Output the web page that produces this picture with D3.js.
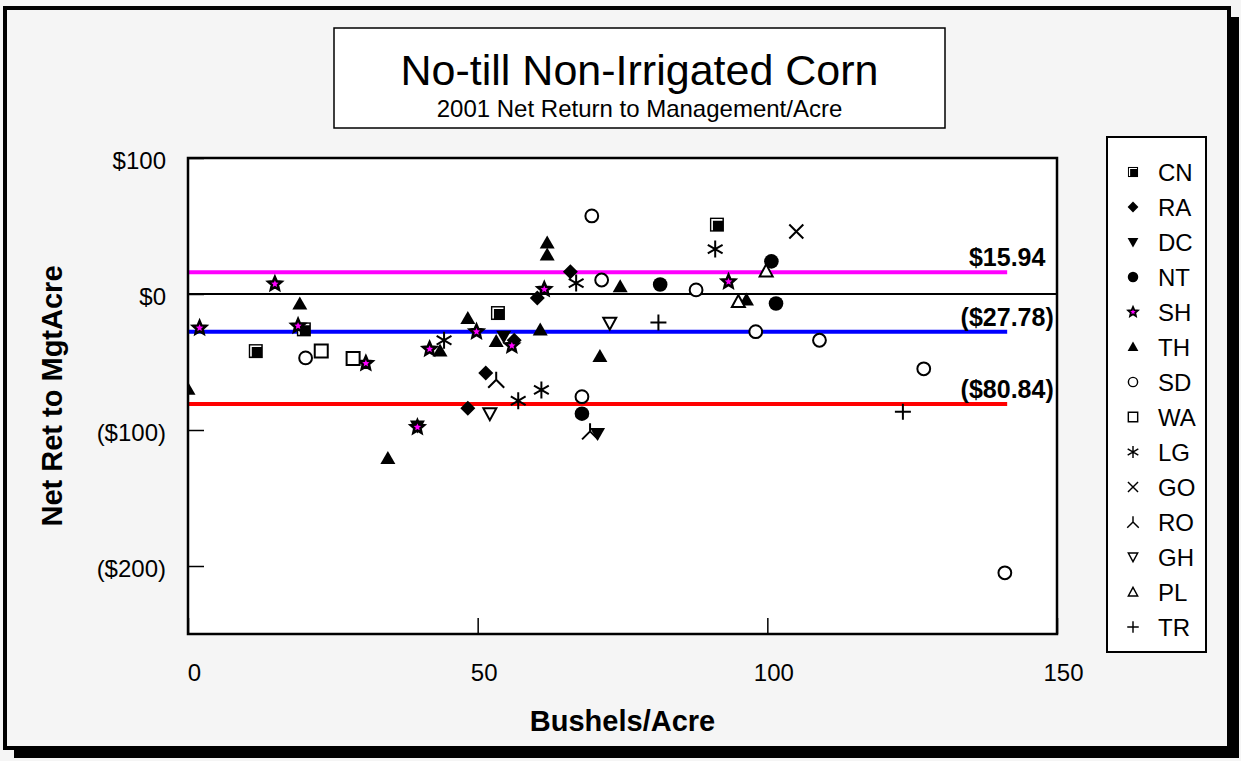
<!DOCTYPE html>
<html lang="en">
<head>
<meta charset="utf-8">
<title>No-till Non-Irrigated Corn</title>
<style type="text/css">
	body { margin: 0; background: #f5f5f5; }
	text { font-family: "Liberation Sans", Arial, sans-serif; }
</style>
<script type="text/javascript" src="https://cdn.jsdelivr.net/npm/d3@7"></script>
</head>
<body>
<script>
// series names (legend order) and their points [bushels, net return]
var seriesNames = ["CN", "RA", "DC", "NT", "SH", "TH", "SD", "WA", "LG", "GO", "RO", "GH", "PL", "TR"];

var CN = [[11.7, -42], [20, -26], [53.5, -14], [91.3, 51]];
var RA = [[48.3, -84], [51.4, -58], [56.3, -34], [60.3, -3], [66, 16.4]];
var DC = [[39.6, -97], [54.5, -31], [70.7, -102.5]];
var NT = [[68, -88], [81.5, 7], [100.7, 24], [101.5, -7]];
var SH = [[2, -25], [15, 7.4], [19, -23.5], [30.7, -51], [39.6, -98], [41.7, -40.5], [49.8, -27.7], [55.9, -38], [61.5, 3.4], [93.3, 9]];
var TH = [[0, -70], [19.3, -7.4], [34.5, -121], [43.5, -42], [48.3, -18], [53.2, -35], [60.8, -26.5], [62, 37.5], [62, 28.7], [71.1, -46], [74.6, 5.4], [96.4, -4.4]];
var SD = [[20.3, -47], [68, -75.5], [69.7, 57.4], [71.4, 10.3], [87.7, 3], [98, -27.7], [109, -34], [127, -55], [141, -205]];
var WA = [[23, -42], [28.5, -47.5]];
var LG = [[44.2, -34], [57, -78.5], [61, -70.5], [67, 8], [91, 33]];
var GO = [[105, 46]];
var RO = [[53.2, -63], [69.4, -101]];
var GH = [[52.1, -88], [72.8, -21.5]];
var PL = [[95, -5.5], [99.8, 17]];
var TR = [[81.2, -21], [123.4, -86.5]];

var seriesData = [CN, RA, DC, NT, SH, TH, SD, WA, LG, GO, RO, GH, PL, TR];

// average lines
var refValues = [15.94, -27.78, -80.84];
var refLabels = ["$15.94", "($27.78)", "($80.84)"];
var refRange = [0, 141.4];

var xTicks = [0, 50, 100, 150];
var yTicks = [100, 0, -100, -200];
var yTickLabels = ["$100", "$0", "($100)", "($200)"];

var titleText = "No-till Non-Irrigated Corn";
var subtitleText = "2001 Net Return to Management/Acre";

// ---- look of each series marker
var markerStyle = {
	CN: "sqfill", RA: "diamond", DC: "tridown", NT: "circle", SH: "star", TH: "triup",
	SD: "circleopen", WA: "squareopen", LG: "asterisk", GO: "x", RO: "ro",
	GH: "tridownopen", PL: "triupopen", TR: "plus"
};
var refColors = ["#ff00ff", "#0000ff", "#ff0000"];

function circlePath(r) {
	return "M" + r + ",0A" + r + "," + r + " 0 1 1 " + (-r) + ",0A" + r + "," + r + " 0 1 1 " + r + ",0Z";
}
function starPath(R, r) {
	var p = [];
	for (var i = 0; i < 10; i++) {
		var a = -Math.PI / 2 + i * Math.PI / 5;
		var rr = i % 2 ? r : R;
		p.push((rr * Math.cos(a)).toFixed(2) + "," + (rr * Math.sin(a)).toFixed(2));
	}
	return "M" + p.join("L") + "Z";
}

// draws one marker into group g
function drawMarker(g, type) {
	var blk = "#000";
	if (type == "sqfill") {
		g.append("path").attr("d", "M-7,-7h14v14h-14Z").attr("fill", blk);
		g.append("path").attr("d", "M-4.8,5.5V-4.8H5.5").attr("fill", "none").attr("stroke", "#fff").attr("stroke-width", 1.6);
	} else if (type == "diamond") {
		g.append("path").attr("d", "M0,-7.5L7.5,0L0,7.5L-7.5,0Z").attr("fill", blk);
	} else if (type == "tridown") {
		g.append("path").attr("d", "M-7.5,-5.5L7.5,-5.5L0,7.5Z").attr("fill", blk);
	} else if (type == "triup") {
		g.append("path").attr("d", "M0,-7.5L7.5,5.5L-7.5,5.5Z").attr("fill", blk);
	} else if (type == "circle") {
		g.append("path").attr("d", circlePath(7.3)).attr("fill", blk);
	} else if (type == "star") {
		g.append("path").attr("d", starPath(7, 3.2)).attr("fill", "#ff00ff")
			.attr("stroke", blk).attr("stroke-width", 2.5).attr("stroke-linejoin", "miter");
	} else if (type == "circleopen") {
		g.append("path").attr("d", circlePath(6.4)).attr("fill", "#fff").attr("stroke", blk).attr("stroke-width", 2);
	} else if (type == "squareopen") {
		g.append("path").attr("d", "M-6.5,-6.5h13v13h-13Z").attr("fill", "#fff").attr("stroke", blk).attr("stroke-width", 2);
	} else if (type == "tridownopen") {
		g.append("path").attr("d", "M-6.5,-5.5L6.5,-5.5L0,6.5Z").attr("fill", "#fff").attr("stroke", blk).attr("stroke-width", 2);
	} else if (type == "triupopen") {
		g.append("path").attr("d", "M0,-6.5L6.5,5.5L-6.5,5.5Z").attr("fill", "#fff").attr("stroke", blk).attr("stroke-width", 2);
	} else {
		var d = "";
		if (type == "asterisk") d = "M0,-8.5V8.5M-7.4,-4.3L7.4,4.3M-7.4,4.3L7.4,-4.3";
		if (type == "x") d = "M-7,-7L7,7M-7,7L7,-7";
		if (type == "ro") d = "M0,0V-8M0,0L-8,8M0,0L8,8";
		if (type == "plus") d = "M-8,0H8M0,-8V8";
		g.append("path").attr("d", d).attr("fill", "none").attr("stroke", blk).attr("stroke-width", 2);
	}
}

var W = 1241, H = 761;
var svg = d3.select("body").append("svg").attr("width", W).attr("height", H);

// outer frame with shadow
svg.append("rect").attr("x", 14).attr("y", 17).attr("width", 1225).attr("height", 741).attr("fill", "#000");
svg.append("rect").attr("x", 5).attr("y", 8).attr("width", 1224).attr("height", 740)
	.attr("fill", "#f5f5f5").attr("stroke", "#000").attr("stroke-width", 4);

// title box
svg.append("rect").attr("x", 334).attr("y", 28).attr("width", 611).attr("height", 100)
	.attr("fill", "#fff").attr("stroke", "#000").attr("stroke-width", 1.5);
svg.append("text").attr("x", 639.5).attr("y", 85).attr("text-anchor", "middle")
	.attr("font-size", "43px").text(titleText);
svg.append("text").attr("x", 639.5).attr("y", 117).attr("text-anchor", "middle")
	.attr("font-size", "24px").text(subtitleText);

var plot = {left: 188, right: 1057, top: 158, bottom: 634};
var x = d3.scaleLinear().domain([0, 150]).range([plot.left, plot.right]);
var y = d3.scaleLinear().domain([-250, 100]).range([plot.bottom, plot.top]);

svg.append("rect").attr("x", plot.left).attr("y", plot.top)
	.attr("width", plot.right - plot.left).attr("height", plot.bottom - plot.top).attr("fill", "#fff");

svg.append("clipPath").attr("id", "clip").append("rect")
	.attr("x", plot.left).attr("y", plot.top)
	.attr("width", plot.right - plot.left).attr("height", plot.bottom - plot.top);

// axes, ticks pointing inward
var xAxis = svg.append("g").attr("transform", "translate(0," + plot.bottom + ")")
	.call(d3.axisBottom(x).tickValues(xTicks).tickSizeInner(-16).tickSizeOuter(0).tickPadding(30));
var yAxis = svg.append("g").attr("transform", "translate(" + plot.left + ",0)")
	.call(d3.axisLeft(y).tickValues(yTicks).tickSizeInner(-16).tickSizeOuter(0).tickPadding(22)
		.tickFormat(function(d, i) { return yTickLabels[i]; }));
[xAxis, yAxis].forEach(function(a) {
	a.select(".domain").remove();
	a.selectAll("line").attr("stroke", "#000").attr("stroke-width", 1.5);
	a.selectAll("text").attr("fill", "#000").attr("font-size", "24px")
		.attr("font-family", '"Liberation Sans", Arial, sans-serif');
});
xAxis.selectAll("text").attr("dx", 6);
yAxis.selectAll("text").attr("dy", "0.42em");

// zero line
svg.append("line").attr("x1", plot.left).attr("x2", plot.right)
	.attr("y1", y(0)).attr("y2", y(0)).attr("stroke", "#000").attr("stroke-width", 2);

// average lines + labels
refValues.forEach(function(v, i) {
	svg.append("line").attr("x1", x(refRange[0])).attr("x2", x(refRange[1]))
		.attr("y1", y(v)).attr("y2", y(v)).attr("stroke", refColors[i]).attr("stroke-width", 4);
	svg.append("text").attr("x", x(refRange[1])).attr("y", y(v) - 6).attr("text-anchor", "middle")
		.attr("font-size", "25px").attr("font-weight", "bold").text(refLabels[i]);
});

// points
var pts = svg.append("g").attr("clip-path", "url(#clip)");
seriesNames.forEach(function(name, si) {
	pts.selectAll(".s" + name)
		.data(seriesData[si])
		.enter()
		.append("g")
		.attr("transform", function(d) { return "translate(" + x(d[0]) + "," + y(d[1]) + ")"; })
		.each(function() { drawMarker(d3.select(this), markerStyle[name]); });
});

// plot border
svg.append("rect").attr("x", plot.left).attr("y", plot.top)
	.attr("width", plot.right - plot.left).attr("height", plot.bottom - plot.top)
	.attr("fill", "none").attr("stroke", "#000").attr("stroke-width", 2.5);

// axis titles
svg.append("text").attr("x", (plot.left + plot.right) / 2).attr("y", 731).attr("text-anchor", "middle")
	.attr("font-size", "29px").attr("font-weight", "bold").text("Bushels/Acre");
svg.append("text").attr("transform", "translate(62," + ((plot.top + plot.bottom) / 2) + ") rotate(-90)")
	.attr("text-anchor", "middle").attr("font-size", "29px").attr("font-weight", "bold").text("Net Ret to MgtAcre");

// legend
var lg = svg.append("g");
lg.append("rect").attr("x", 1107).attr("y", 137).attr("width", 99).attr("height", 515)
	.attr("fill", "#fff").attr("stroke", "#000").attr("stroke-width", 2);
seriesNames.forEach(function(name, i) {
	var row = lg.append("g").attr("transform", "translate(1133," + (172 + i * 35) + ")");
	drawMarker(row.append("g").attr("transform", "scale(0.72)"), markerStyle[name]);
	row.append("text").attr("x", 25).attr("y", 0).attr("dy", "0.36em").attr("font-size", "24px").text(name);
});
</script>
</body>
</html>
